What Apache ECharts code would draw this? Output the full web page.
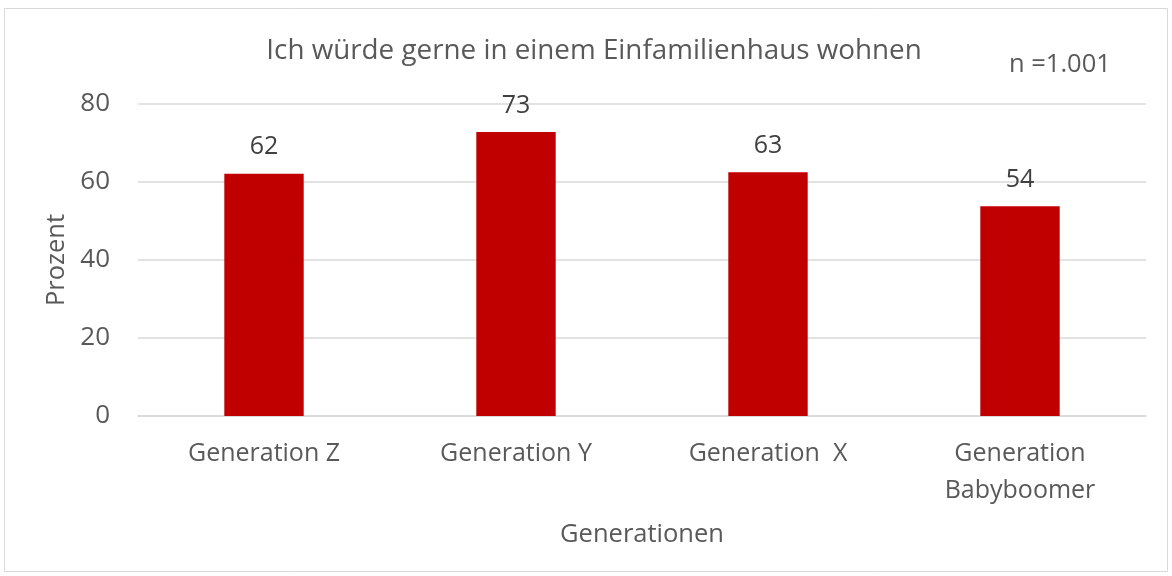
<!DOCTYPE html>
<html>
<head>
<meta charset="utf-8">
<script src="https://cdn.jsdelivr.net/npm/echarts@6/dist/echarts.min.js"></script>
<style>
  html, body { margin: 0; padding: 0; background: #fff; }
  #main { width: 1172px; height: 576px; }
</style>
</head>
<body>
<div id="main"></div>
<script>
// Daten
const categories = ['Generation Z', 'Generation Y', 'Generation  X', 'Generation\nBabyboomer']
const values = [62.1, 72.8, 62.5, 53.8]
const yTicks = [0, 20, 40, 60, 80]

const textColor = '#595959'
const font = '"Open Sans", "Noto Sans", sans-serif'

const chart = echarts.init(document.getElementById('main'))

const option = {
  backgroundColor: '#fff',
  textStyle: { fontFamily: font, color: textColor },
  title: {
    text: 'Ich würde gerne in einem Einfamilienhaus wohnen',
    left: 589,
    top: 32,
    textAlign: 'center',
    textStyle: { fontFamily: font, fontSize: 27.8, fontWeight: 'normal', color: textColor }
  },
  graphic: [
    {
      type: 'rect',
      shape: { x: 4.5, y: 8.5, width: 1163, height: 563 },
      style: { fill: 'none', stroke: '#d9d9d9', lineWidth: 1 },
      silent: true
    },
    {
      type: 'text',
      left: 1009,
      top: 52,
      style: { text: 'n =1.001', fontFamily: font, fontSize: 25.5, fill: textColor }
    }
  ],
  grid: { left: 138, right: 26, top: 104, bottom: 160 },
  xAxis: {
    type: 'category',
    data: categories,
    name: 'Generationen',
    nameLocation: 'middle',
    nameGap: 106,
    nameTextStyle: { fontSize: 25.5, color: textColor, fontFamily: font },
    axisLine: { show: true, lineStyle: { color: '#d9d9d9', width: 1.5 } },
    axisTick: { show: false },
    axisLabel: { fontSize: 25, color: textColor, fontFamily: font, margin: 19, lineHeight: 37, interval: 0 }
  },
  yAxis: {
    type: 'value',
    min: yTicks[0],
    max: yTicks[yTicks.length - 1],
    interval: 20,
    name: 'Prozent',
    nameLocation: 'middle',
    nameGap: 67,
    nameRotate: 90,
    nameTextStyle: { fontSize: 25.5, color: textColor, fontFamily: font },
    axisLine: { show: false },
    axisTick: { show: false },
    axisLabel: { fontSize: 26, color: textColor, fontFamily: font, margin: 28 },
    splitLine: { lineStyle: { color: '#d9d9d9', width: 1.5 } }
  },
  series: [
    {
      type: 'bar',
      data: values,
      barWidth: '31.5%',
      itemStyle: { color: '#c00000' },
      label: {
        show: true,
        position: 'top',
        distance: 14,
        fontSize: 25,
        color: '#404040',
        fontFamily: font,
        formatter: p => Math.round(p.value)
      }
    }
  ]
}

chart.setOption(option)
</script>
</body>
</html>
